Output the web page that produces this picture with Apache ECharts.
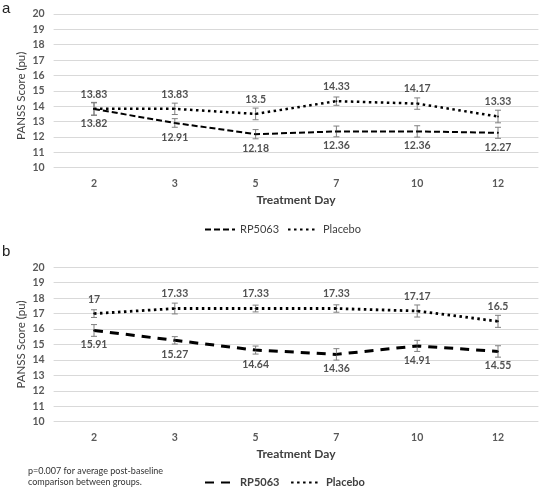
<!DOCTYPE html>
<html><head><meta charset="utf-8">
<script src="https://cdn.jsdelivr.net/npm/echarts@6/dist/echarts.min.js"></script>
<style>html,body{margin:0;padding:0;background:#fff}#c{width:540px;height:493px}</style>
</head><body><div id="c"></div>
<script>
const days = ['2','3','5','7','10','12'];
const yTicks = [10,11,12,13,14,15,16,17,18,19,20];
// Panel a
const rpA = [13.82, 12.91, 12.18, 12.36, 12.36, 12.27];
const rpAErr = [0.40, 0.28, 0.30, 0.35, 0.37, 0.36];
const plA = [13.83, 13.83, 13.5, 14.33, 14.17, 13.33];
const plAErr = [0.42, 0.37, 0.38, 0.27, 0.37, 0.41];
// Panel b
const rpB = [15.91, 15.27, 14.64, 14.36, 14.91, 14.55];
const rpBErr = [0.38, 0.24, 0.26, 0.37, 0.36, 0.37];
const plB = [17, 17.33, 17.33, 17.33, 17.17, 16.5];
const plBErr = [0.25, 0.35, 0.22, 0.24, 0.39, 0.39];

const FONT = 'Lato';
const chart = echarts.init(document.getElementById('c'), null, {renderer:'canvas'});

function errSeries(vals, errs, idx) {
  return {
    type: 'custom', xAxisIndex: idx, yAxisIndex: idx, z: 5, silent: true,
    data: vals.map((v, i) => [i, v, errs[i]]),
    encode: {x: 0, y: 1},
    renderItem: function (params, api) {
      const x = api.value(0), y = api.value(1), e = api.value(2);
      const hi = api.coord([x, y + e]), lo = api.coord([x, y - e]);
      const w = 3;
      const st = {stroke: '#7f7f7f', lineWidth: 1};
      return {type: 'group', children: [
        {type: 'line', shape: {x1: hi[0], y1: hi[1], x2: lo[0], y2: lo[1]}, style: st},
        {type: 'line', shape: {x1: hi[0]-w, y1: hi[1], x2: hi[0]+w, y2: hi[1]}, style: st},
        {type: 'line', shape: {x1: lo[0]-w, y1: lo[1], x2: lo[0]+w, y2: lo[1]}, style: st}
      ]};
    }
  };
}
function lineSeries(name, vals, idx, dash, width) {
  return {
    name: name, type: 'line', xAxisIndex: idx, yAxisIndex: idx, data: vals,
    symbol: 'none', z: 4,
    lineStyle: {color: '#000', width: width, type: dash, cap: 'butt'},
    itemStyle: {color: '#000'},
    emphasis: {disabled: true}
  };
}
function labelSeries(vals, idx, pos) {
  return {
    type: 'scatter', xAxisIndex: idx, yAxisIndex: idx, data: vals, silent: true,
    symbol: 'circle', symbolSize: 2, itemStyle: {color: '#000'}, z: 6,
    label: {show: true, position: pos, distance: 8, fontFamily: FONT, fontSize: 10.5,
      fontWeight: 'bold', color: '#262626', formatter: p => String(p.value)},
    emphasis: {disabled: true}
  };
}
function xAx(idx) {
  return {type: 'category', gridIndex: idx, data: days, boundaryGap: true,
    axisLine: {show: false}, axisTick: {show: false},
    axisLabel: {margin: 10, fontFamily: FONT, fontSize: 10.5, fontWeight: 'bold', color: '#595959'},
    name: 'Treatment Day', nameLocation: 'middle', nameGap: 26, nameMoveOverlap: false,
    nameTextStyle: {fontFamily: FONT, fontSize: 12, fontWeight: 'bold', color: '#404040'}};
}
function yAx(idx, pad) {
  return {type: 'value', gridIndex: idx, min: yTicks[0], max: yTicks[yTicks.length-1], interval: 1,
    axisLine: {show: false}, axisTick: {show: false},
    splitLine: {lineStyle: {color: '#d9d9d9', width: 1}},
    axisLabel: {margin: 9, fontFamily: FONT, fontSize: 10.5, fontWeight: 'bold', color: '#595959'},
    name: 'PANSS Score (pu)', nameLocation: 'middle', nameGap: 26, nameMoveOverlap: false,
    nameTextStyle: {fontFamily: FONT, fontSize: 11.5, color: '#404040', padding: pad}};
}
const legText = {fontFamily: FONT, fontSize: 11, color: '#404040'};
const legCommon = {left: 204, padding: 0, itemWidth: 30, itemHeight: 12, itemGap: 8,
  itemStyle: {opacity: 0}};
chart.setOption({
  animation: false,
  backgroundColor: '#fff',
  grid: [
    {left: 53.6, right: 1.6, top: 14, height: 153.7},
    {left: 53.6, right: 1.6, top: 267.3, height: 154.4}
  ],
  xAxis: [xAx(0), xAx(1)],
  yAxis: [yAx(0, [0, 10, 0, 0]), yAx(1, [0, 0, 0, 0])],
  legend: [
    Object.assign({top: 224, data: ['RP5063', 'Placebo'], textStyle: legText}, legCommon),
    Object.assign({top: 477, data: ['RP5063 ', 'Placebo '],
      textStyle: Object.assign({}, legText, {fontWeight: 'bold'})}, legCommon)
  ],
  series: [
    errSeries(rpA, rpAErr, 0), errSeries(plA, plAErr, 0),
    lineSeries('RP5063', rpA, 0, [6, 3], 2),
    lineSeries('Placebo', plA, 0, [2.5, 3.5], 2.5),
    labelSeries(rpA, 0, 'bottom'), labelSeries(plA, 0, 'top'),
    errSeries(rpB, rpBErr, 1), errSeries(plB, plBErr, 1),
    lineSeries('RP5063 ', rpB, 1, [9, 7], 3),
    lineSeries('Placebo ', plB, 1, [2.5, 3.5], 2.8),
    labelSeries(rpB, 1, 'bottom'), labelSeries(plB, 1, 'top')
  ],
  graphic: [
    {type: 'text', left: 2, top: 1, style: {text: 'a', fontFamily: 'Liberation Sans', fontSize: 15, fill: '#222'}},
    {type: 'text', left: 2, top: 244, style: {text: 'b', fontFamily: 'Liberation Sans', fontSize: 15, fill: '#222'}},
    {type: 'text', left: 28, top: 466, style: {text: 'p=0.007 for average post-baseline\ncomparison between groups.',
      fontFamily: FONT, fontSize: 9, lineHeight: 11, fill: '#333'}}
  ]
});
</script></body></html>
